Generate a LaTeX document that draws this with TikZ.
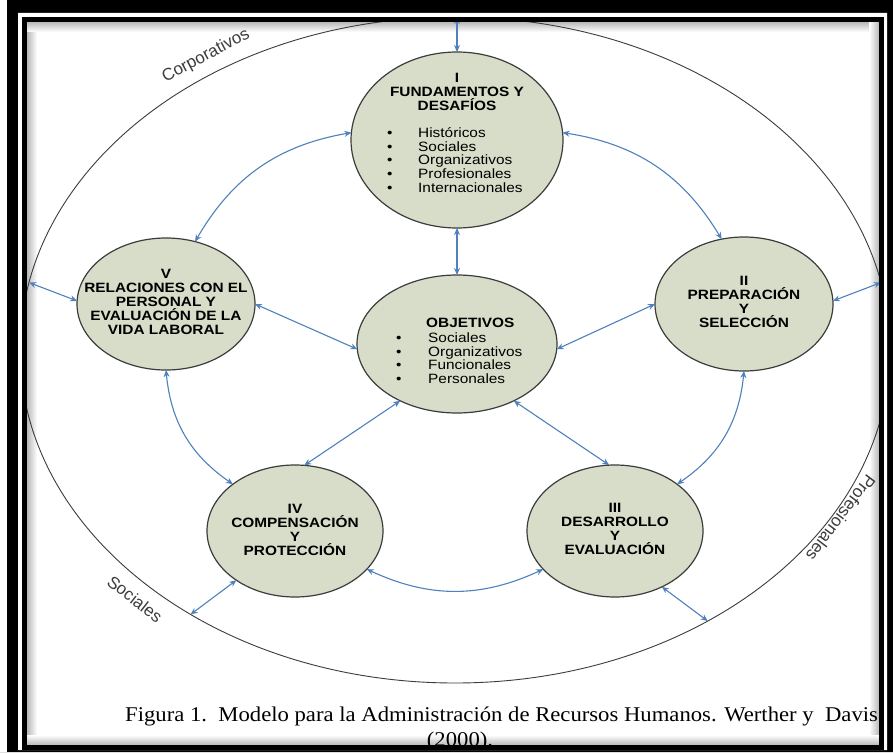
\documentclass[tikz,border=0pt]{standalone}
\usepackage{fontspec}
\setmainfont{Liberation Serif}
\newfontfamily\diagfont[FakeStretch=1.14]{Liberation Sans}
\newfontfamily\rimfont{Liberation Sans}
\newfontfamily\capfont[FakeStretch=1.08]{Liberation Serif}
\usetikzlibrary{shapes.geometric,arrows.meta}
\definecolor{sage}{RGB}{215,221,200}
\definecolor{linkblue}{RGB}{79,129,189}
\definecolor{rimgray}{RGB}{60,60,60}

\begin{document}
\begin{tikzpicture}[
    x=1pt, y=1pt,
    area/.style={ellipse, draw=rimgray, line width=1.2pt, fill=sage, inner sep=0pt, outer sep=0pt},
    areatext/.style={font={\diagfont\bfseries\fontsize{13.5}{13.8}\selectfont}, align=center, inner sep=0pt},
    listtext/.style={font={\diagfont\fontsize{13.5}{13.6}\selectfont}, align=left, inner sep=0pt, anchor=west},
    link/.style={draw=linkblue, line width=1.1pt, {Stealth[length=7pt,width=6pt]}-{Stealth[length=7pt,width=6pt]}},
    rimtext/.style={font={\rimfont\fontsize{17}{17}\selectfont}, text=rimgray, inner sep=0pt},
    captext/.style={font={\capfont\fontsize{21}{24}\selectfont}, inner sep=0pt}
]
\useasboundingbox (0,0) rectangle (893,-752);
\fill[white] (0,0) rectangle (893,-752);
\shade[left color=gray!55, right color=white] (27,-22) rectangle (37,-745);
\shade[top color=gray!55, bottom color=white] (27,-22) rectangle (879,-32);
\shade[left color=white, right color=gray!55] (869,-22) rectangle (879,-745);
\shade[top color=white, bottom color=gray!55] (27,-735) rectangle (879,-745);

\node[ellipse, draw=rimgray, line width=0.9pt, minimum width=870pt, minimum height=666pt, inner sep=0pt, outer sep=0pt] (env) at (455,-350) {};

\node[area, minimum width=212pt, minimum height=176pt] (fund) at (457,-140) {};
\node[area, minimum width=178pt, minimum height=132pt] (rel) at (166,-304) {};
\node[area, minimum width=178pt, minimum height=134pt] (prep) at (744,-304) {};
\node[area, minimum width=200pt, minimum height=138pt] (obj) at (457,-344) {};
\node[area, minimum width=176pt, minimum height=132pt] (comp) at (295,-531) {};
\node[area, minimum width=176pt, minimum height=132pt] (des) at (615,-531) {};

\draw[link] (fund.north) -- (fund.north |- env.north);
\draw[link] (fund) -- (obj);
\draw[link] (fund.176) to[bend right=25] (rel.65);
\draw[link] (rel.south) to[bend right=25] (comp.143);
\draw[link] (comp.-28) to[bend right=25] (des.208);
\draw[link] (des.37) to[bend right=25] (prep.south);
\draw[link] (prep.109) to[bend right=25] (fund.4);
\draw[link] (rel.east) -- (obj.183);
\draw[link] (prep.west) -- (obj.-3);
\draw[link] (obj.225) -- (comp.82);
\draw[link] (obj.315) -- (des.95);
\draw[link] (rel.178) -- (env.171);
\draw[link] (prep.2) -- (env.9);
\draw[link] (comp.220) -- (env.225);
\draw[link] (des.310) -- (env.313);

\node[areatext] (fundtitle) at (457,-92) {I\\FUNDAMENTOS Y\\DESAFÍOS};
\node[listtext] (fundlist) at (387,-160) {\makebox[31pt][l]{\textbullet}Históricos\\
    \makebox[31pt][l]{\textbullet}Sociales\\
    \makebox[31pt][l]{\textbullet}Organizativos\\
    \makebox[31pt][l]{\textbullet}Profesionales\\
    \makebox[31pt][l]{\textbullet}Internacionales};
\node[areatext, anchor=west] (objtitle) at (426,-323) {OBJETIVOS};
\node[listtext] (objlist) at (396,-358) {\makebox[32pt][l]{\textbullet}Sociales\\
    \makebox[32pt][l]{\textbullet}Organizativos\\
    \makebox[32pt][l]{\textbullet}Funcionales\\
    \makebox[32pt][l]{\textbullet}Personales};
\node[areatext] (reltext) at (166,-302) {V\\RELACIONES CON EL\\PERSONAL Y\\EVALUACIÓN DE LA\\VIDA LABORAL};
\node[areatext] (preptext) at (744,-302) {II\\PREPARACIÓN\\Y\\SELECCIÓN};
\node[areatext] (comptext) at (295,-530) {IV\\COMPENSACIÓN\\Y\\PROTECCIÓN};
\node[areatext] (destext) at (615,-529) {III\\DESARROLLO\\Y\\EVALUACIÓN};

\node[rimtext, rotate=28] (corp) at (206,-56) {Corporativos};
\node[rimtext, rotate=-38] (soc) at (135,-599) {Sociales};
\node[rimtext, rotate=233] (prof) at (841,-518) {Profesionales};

\node[captext, anchor=base west] (caption) at (125,-721) {Figura 1.~~Modelo para la Administración de Recursos Humanos. Werther y~~Davis};
\node[captext, anchor=base] (capyear) at (460,-746) {(2000).};

\fill[black, even odd rule] (0,0) rectangle (893,-752) (18,-13) rectangle (887,-750);
\fill[white] (0,0) rectangle (7,-752);
\fill[white, even odd rule] (18,-13) rectangle (887,-750) (22,-17) rectangle (884,-748.5);
\draw[line width=5pt] (24.5,-19.5) rectangle (881.5,-747);
\end{tikzpicture}
\end{document}
